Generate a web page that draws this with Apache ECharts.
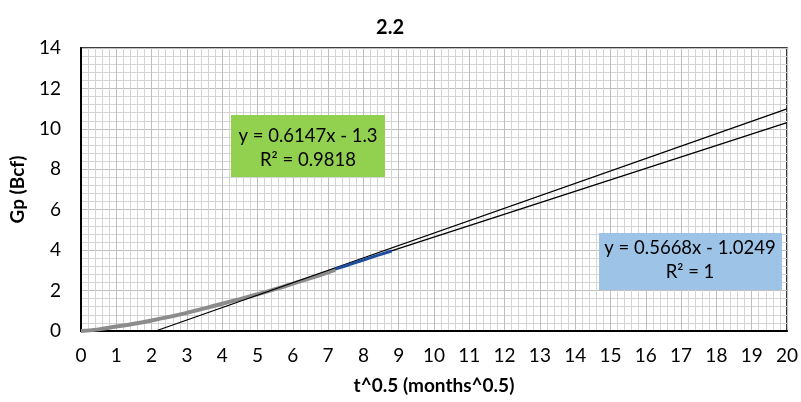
<!DOCTYPE html>
<html><head><meta charset="utf-8">
<script src="https://cdn.jsdelivr.net/npm/echarts@6/dist/echarts.min.js"></script>
<style>html,body{margin:0;padding:0;background:#fff}#c{width:801px;height:402px}</style>
</head><body><div id="c"></div>
<script>
var curveT = [0, 0.5, 1, 1.5, 2, 2.5, 3, 3.5, 4, 4.5, 5, 5.5, 6, 6.5, 7, 7.2];
var curveGp = [0, 0.08, 0.22, 0.36, 0.52, 0.7, 0.9, 1.12, 1.35, 1.58, 1.82, 2.07, 2.34, 2.62, 2.9, 3.02];
var blueT = [7.2, 7.6, 8, 8.4, 8.8];
var blueGp = [3.06, 3.28, 3.51, 3.74, 3.96];
var trend1T = [2.115, 20];
var trend1Gp = [0, 10.99];
var trend2T = [7.2, 20];
var trend2Gp = [3.056, 10.311];
var eq1 = ['y = 0.6147x - 1.3', 'R² = 0.9818'];
var eq2 = ['y = 0.5668x - 1.0249', 'R² = 1'];
var titleText = '2.2';
var xName = 't^0.5 (months^0.5)';
var yName = 'Gp (Bcf)';

function pairs(a, b) { return a.map(function (v, i) { return [v, b[i]]; }); }
var F = 'Lato, "Open Sans", sans-serif';
var chart = echarts.init(document.getElementById('c'));
chart.setOption({
  animation: false,
  title: { text: titleText, left: 385, top: 13, textAlign: 'center',
    textStyle: { fontFamily: F, fontSize: 20, fontWeight: 'bold', color: '#000' } },
  grid: { left: 80, right: 13, top: 48, bottom: 71, show: true, borderColor: '#000', borderWidth: 1.5, containLabel: false },
  xAxis: {
    type: 'value', min: 0, max: 20, interval: 1,
    name: xName, nameLocation: 'middle', nameGap: 45,
    nameTextStyle: { fontFamily: F, fontSize: 19, fontWeight: 'bold', color: '#000' },
    axisLine: { lineStyle: { color: '#000', width: 2 } },
    axisTick: { show: false },
    axisLabel: { fontFamily: F, fontSize: 19, color: '#000', margin: 15 },
    splitLine: { show: true, lineStyle: { color: '#bfbfbf', width: 1 } },
    minorTick: { show: false, splitNumber: 5 },
    minorSplitLine: { show: true, lineStyle: { color: '#d4d4d4', width: 1 } }
  },
  yAxis: {
    type: 'value', min: 0, max: 14, interval: 2,
    name: yName, nameLocation: 'middle', nameGap: 54, nameRotate: 90,
    nameTextStyle: { fontFamily: F, fontSize: 19, fontWeight: 'bold', color: '#000' },
    axisLine: { show: true, lineStyle: { color: '#000', width: 2 } },
    axisTick: { show: false },
    axisLabel: { fontFamily: F, fontSize: 19, color: '#000', margin: 20 },
    splitLine: { show: true, lineStyle: { color: '#bfbfbf', width: 1 } },
    minorTick: { show: false, splitNumber: 5 },
    minorSplitLine: { show: true, lineStyle: { color: '#d4d4d4', width: 1 } }
  },
  series: [
    { type: 'line', data: pairs(curveT, curveGp), smooth: true, showSymbol: false,
      lineStyle: { color: '#8c8c8c', width: 4 }, z: 2 },
    { type: 'line', data: pairs(trend1T, trend1Gp), showSymbol: false,
      lineStyle: { color: '#000', width: 1.3 }, z: 3 },
    { type: 'line', data: pairs(trend2T, trend2Gp), showSymbol: false,
      lineStyle: { color: '#000', width: 1.3 }, z: 3 },
    { type: 'line', data: pairs(blueT, blueGp), showSymbol: false,
      lineStyle: { color: '#1f4e9e', width: 3 }, z: 4 }
  ],
  graphic: [
    { type: 'rect', left: 231, top: 115, z: 100, shape: { width: 154, height: 62 }, style: { fill: '#92d050' } },
    { type: 'text', x: 308, y: 127, z: 101, style: { text: eq1[0], fontFamily: F, fontSize: 18.5, fill: '#000', align: 'center' } },
    { type: 'text', x: 308, y: 151, z: 101, style: { text: eq1[1], fontFamily: F, fontSize: 18.5, fill: '#000', align: 'center' } },
    { type: 'rect', left: 599, top: 233, z: 100, shape: { width: 183, height: 57 }, style: { fill: '#9dc3e6' } },
    { type: 'text', x: 690, y: 239, z: 101, style: { text: eq2[0], fontFamily: F, fontSize: 18.5, fill: '#000', align: 'center' } },
    { type: 'text', x: 690, y: 263, z: 101, style: { text: eq2[1], fontFamily: F, fontSize: 18.5, fill: '#000', align: 'center' } }
  ]
});
</script></body></html>
